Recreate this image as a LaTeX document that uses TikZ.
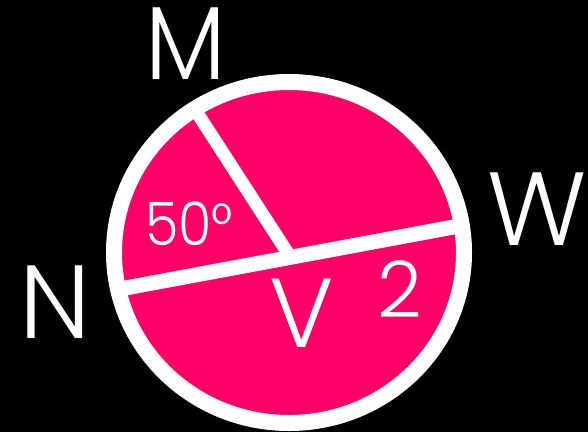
\documentclass[tikz,border=0pt]{standalone}
\usepackage{fontspec}
\setmainfont{Poppins}[UprightFont={* Light}]
\definecolor{pinkfill}{RGB}{255,0,102}
\begin{document}
\begin{tikzpicture}[x=1pt,y=-1pt,
  lbl/.style={text=white,inner sep=0pt,anchor=center},
  wline/.style={draw=white,line width=15pt}]
\useasboundingbox[fill=black] (0,0) rectangle (588,432);
\coordinate (c) at (289,252.5);
\coordinate (dl) at (112,290.5);
\coordinate (dr) at (467,224.5);
\coordinate (rt) at (194,108);
\coordinate (rb) at (291,258);
\fill[pinkfill] (c) ellipse[x radius=176,y radius=171];
\draw[wline] (dl) -- (dr);
\draw[draw=white,line width=13pt] (rb) -- (rt);
\draw[draw=white,line width=16pt] (c) ellipse[x radius=175,y radius=170.5];
\node[lbl,font=\fontsize{104}{104}\selectfont,xscale=0.92] (m) at (186,44) {M};
\node[lbl,font=\fontsize{104}{104}\selectfont] (w) at (537,209) {W};
\node[lbl,font=\fontsize{104}{104}\selectfont] (n) at (55,302) {N};
\node[lbl,font=\fontsize{98}{98}\selectfont] (v) at (302,313) {V};
\node[lbl,font=\fontsize{78}{78}\selectfont] (two) at (400,289) {2};
\node[lbl,font=\fontsize{60}{60}\selectfont,xscale=0.9] (ang) at (189,224) {50°};
\end{tikzpicture}
\end{document}
